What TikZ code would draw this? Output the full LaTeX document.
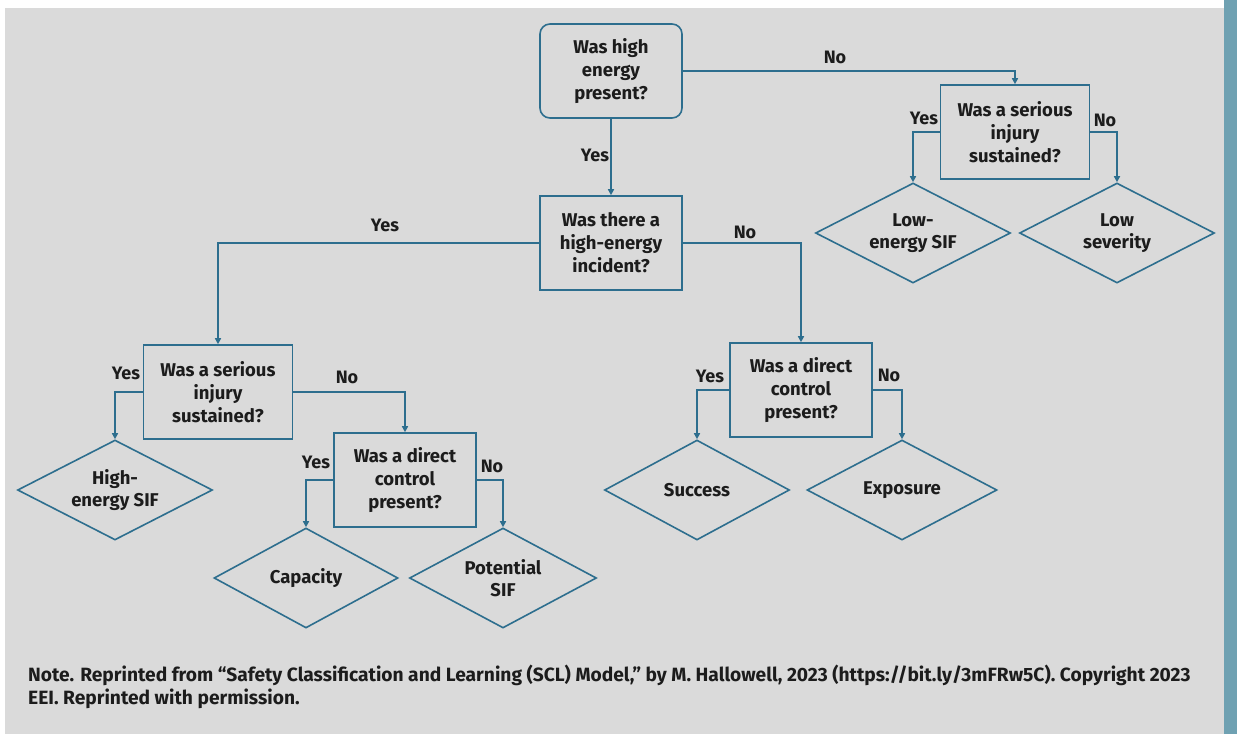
\documentclass[tikz,border=0pt]{standalone}
\usepackage{fontspec}
\setmainfont{Fira Sans}
\usetikzlibrary{shapes.geometric,arrows.meta}

\definecolor{flowline}{HTML}{2D6E8E}
\definecolor{panelgray}{HTML}{DADADA}
\definecolor{sidebar}{HTML}{6FA1B2}
\definecolor{inkblack}{HTML}{1C1C1C}

\begin{document}
\begin{tikzpicture}[x=1pt, y=-1pt, >={Triangle[width=6pt,length=6pt]},
    question/.style={draw=flowline, line width=1.6pt, minimum width=142pt,
        minimum height=94pt, inner sep=0pt, align=center, text=inkblack,
        font=\bfseries\fontsize{18.5}{23}\selectfont},
    outcome/.style={diamond, aspect=2, draw=flowline, line width=1.6pt,
        minimum height=100pt, inner sep=0pt, align=center, text=inkblack,
        font=\bfseries\fontsize{18.5}{22}\selectfont},
    link/.style={draw=flowline, line width=1.6pt, ->},
    answer/.style={text=inkblack, font=\bfseries\fontsize{18}{22}\selectfont}]
    % Fond
    \fill[white] (0,0) rectangle (1237,734);
    \fill[panelgray] (5,8) rectangle (1224,734);
    \fill[sidebar] (1224,0) rectangle (1237,734);
    \useasboundingbox (0,0) rectangle (1237,734);

    % Questions
    \node[question, rounded corners=10pt] (q1) at (611,71) {Was high\\energy\\present?};
    \node[question] (q2) at (611,243) {Was there a\\high-energy\\incident?};
    \node[question, minimum width=149pt] (q3) at (1015,132) {Was a serious\\injury\\sustained?};
    \node[question, minimum width=149pt] (q4) at (218,392) {Was a serious\\injury\\sustained?};
    \node[question] (q5) at (801,390) {Was a direct\\control\\present?};
    \node[question] (q6) at (405,480) {Was a direct\\control\\present?};

    % Issues
    \node[outcome, minimum width=195pt] (d1) at (913,233) {Low-\\energy SIF};
    \node[outcome, minimum width=195pt] (d2) at (1117,233) {Low\\severity};
    \node[outcome, minimum width=195pt] (d3) at (115,490) {High-\\energy SIF};
    \node[outcome, minimum width=184pt] (d4) at (306,578) {Capacity};
    \node[outcome, minimum width=187pt] (d5) at (503,578) {Potential\\SIF};
    \node[outcome, minimum width=185pt] (d6) at (697,490) {Success};
    \node[outcome, minimum width=190pt] (d7) at (902,490) {Exposure};

    % Liaisons
    \draw[link] (q1.south) -- (q2.north);
    \draw[link] (q1.east) -| (q3.north);
    \draw[link] (q2.west) -| (q4.north);
    \draw[link] (q2.east) -| (q5.north);
    \draw[link] (q3.west) -| (d1.north);
    \draw[link] (q3.east) -| (d2.north);
    \draw[link] (q4.west) -| (d3.north);
    \draw[link] (q4.east) -| (q6.north);
    \draw[link] (q6.west) -| (d4.north);
    \draw[link] (q6.east) -| (d5.north);
    \draw[link] (q5.west) -| (d6.north);
    \draw[link] (q5.east) -| (d7.north);

    % Oui / Non
    \node[answer] (a1) at (595,155) {Yes};
    \node[answer] (a2) at (835,57) {No};
    \node[answer] (a3) at (924,118) {Yes};
    \node[answer] (a4) at (1105,120) {No};
    \node[answer] (a5) at (385,225) {Yes};
    \node[answer] (a6) at (745,232) {No};
    \node[answer] (a7) at (126,373) {Yes};
    \node[answer] (a8) at (347,377) {No};
    \node[answer] (a9) at (316,462) {Yes};
    \node[answer] (a10) at (492,466) {No};
    \node[answer] (a11) at (710,376) {Yes};
    \node[answer] (a12) at (889,375) {No};

    % Note
    \node[anchor=west, align=left, inner sep=0pt, text=inkblack,
        font=\bfseries\fontsize{19.2}{23}\selectfont] (note) at (28,687)
        {Note. Reprinted from “Safety Classification and Learning (SCL) Model,” by M. Hallowell, 2023 (https://bit.ly/3mFRw5C). Copyright 2023\\EEI. Reprinted with permission.};
\end{tikzpicture}
\end{document}
